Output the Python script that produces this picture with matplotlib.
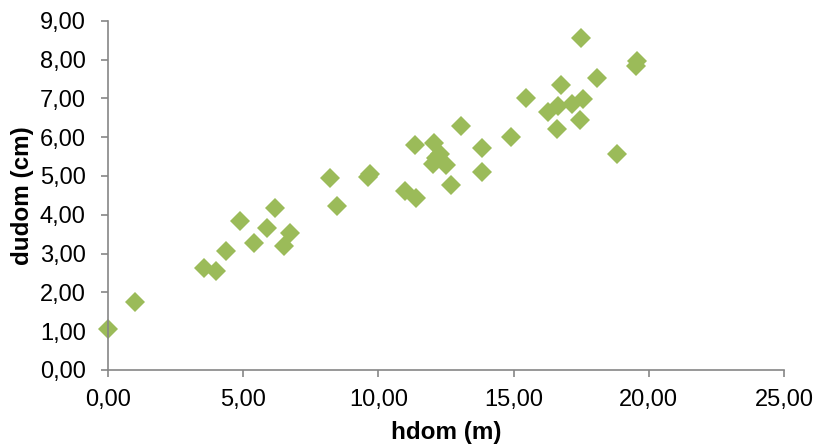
import matplotlib
matplotlib.use("Agg")
import matplotlib.pyplot as plt
from matplotlib.ticker import FuncFormatter, MultipleLocator

# dominant height (m) and dominant diameter (cm)
hdom = [0.0, 1.0, 3.55, 3.98, 4.38, 4.89, 5.41, 5.89, 6.18, 6.5, 6.72,
        8.2, 8.47, 9.6, 9.7, 10.98, 11.34, 11.38, 12.04, 12.12, 12.27,
        12.02, 12.49, 12.68, 13.07, 13.83, 13.83, 14.92, 15.47, 16.28,
        16.65, 16.61, 16.74, 17.18, 17.45, 17.57, 17.51, 18.1, 18.84,
        19.52, 19.57]
dudom = [1.05, 1.74, 2.63, 2.56, 3.06, 3.85, 3.26, 3.65, 4.18, 3.2, 3.53,
         4.94, 4.22, 4.96, 5.04, 4.61, 5.8, 4.44, 5.86, 5.45, 5.57,
         5.31, 5.27, 4.76, 6.28, 5.72, 5.1, 6.0, 7.0, 6.64,
         6.79, 6.21, 7.34, 6.86, 6.45, 6.97, 8.55, 7.52, 5.57,
         7.82, 7.97]

plt.rcParams['font.family'] = ['Liberation Sans', 'DejaVu Sans']

fig = plt.figure(figsize=(8.2, 4.47), dpi=100)
ax = fig.add_axes([0.1317, 0.1723, 0.8243, 0.7814])

ax.plot(hdom, dudom, linestyle='none', marker='D', markersize=10.5,
        color='#9BBB59', markeredgewidth=0, clip_on=False)

ax.set_xlim(0, 25)
ax.set_ylim(0, 9)
ax.xaxis.set_major_locator(MultipleLocator(5))
ax.yaxis.set_major_locator(MultipleLocator(1))
comma = FuncFormatter(lambda v, p: f"{v:.2f}".replace('.', ','))
ax.xaxis.set_major_formatter(comma)
ax.yaxis.set_major_formatter(comma)

for s in ['top', 'right']:
    ax.spines[s].set_visible(False)
for s in ['left', 'bottom']:
    ax.spines[s].set_color('#868686')
    ax.spines[s].set_linewidth(1.2)
ax.tick_params(axis='both', direction='out', length=5, width=1.2,
               color='#868686', labelsize=17)
ax.tick_params(axis='x', pad=9)
ax.tick_params(axis='y', pad=11)

ax.set_xlabel('hdom (m)', fontsize=17.5, fontweight='bold', labelpad=7)
ax.set_ylabel('dudom (cm)', fontsize=17.5, fontweight='bold', labelpad=4)

fig.savefig('out.png', dpi=100)
